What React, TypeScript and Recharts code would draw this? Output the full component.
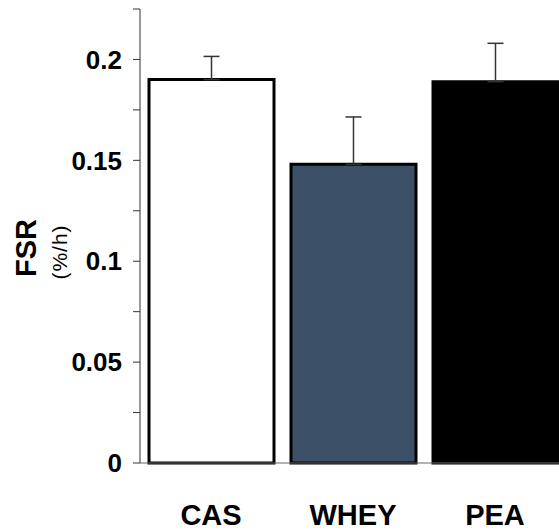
import { BarChart, Bar, XAxis, YAxis, Cell, ErrorBar } from "recharts";

const FONT = "'Liberation Sans', Arial, sans-serif";

const categories = ["CAS", "WHEY", "PEA"];
const fsr = [0.19, 0.148, 0.189];
const sem = [0.0115, 0.0235, 0.019];
const fills = ["#ffffff", "#3c5067", "#000000"];

const yTicks = [0, 0.025, 0.05, 0.075, 0.1, 0.125, 0.15, 0.175, 0.2, 0.225];
const yLabels = ["0", "", "0.05", "", "0.1", "", "0.15", "", "0.2", ""];

const data = categories.map((name, i) => ({ name, fsr: fsr[i], err: [0, sem[i]] }));

function AxisTitle() {
  return (
    <g fontFamily={FONT}>
      <text x={26} y={248} transform="rotate(-90 26 248)" textAnchor="middle" dominantBaseline="central"
        fontSize={29} fontWeight="bold" fill="#000">FSR</text>
      <text x={59} y={252} transform="rotate(-90 59 252)" textAnchor="middle" dominantBaseline="central"
        fontSize={21} letterSpacing={1} fill="#000">(%/h)</text>
    </g>
  );
}

export default function App() {
  return (
    <div style={{ position: "absolute", left: 0, top: 0, width: 559, height: 530, overflow: "hidden", background: "#fff" }}>
      <BarChart width={566} height={530} data={data} margin={{ top: 9, right: 0, bottom: 0, left: 0 }} barSize={125}>
        <XAxis dataKey="name" height={67} axisLine={{ stroke: "#666", strokeWidth: 1 }} tickLine={false} tickSize={0} tickMargin={41}
          tick={{ fill: "#000", fontSize: 29, fontWeight: "bold", fontFamily: FONT }} />
        <YAxis width={140} domain={[0, 0.225]} ticks={yTicks} interval={0} tickSize={7} tickMargin={11}
          tickFormatter={(v: number) => yLabels[yTicks.indexOf(v)] ?? ""}
          axisLine={{ stroke: "#333", strokeWidth: 1 }} tickLine={{ stroke: "#333", strokeWidth: 1 }}
          tick={{ fill: "#000", fontSize: 26, fontWeight: "bold", fontFamily: FONT }}
          label={<AxisTitle />} />
        <Bar dataKey="fsr" isAnimationActive={false} stroke="#000" strokeWidth={3}>
          {data.map((d, i) => <Cell key={d.name} fill={fills[i]} />)}
          <ErrorBar dataKey="err" direction="y" width={8} stroke="#333" strokeWidth={1.5} />
        </Bar>
      </BarChart>
    </div>
  );
}
